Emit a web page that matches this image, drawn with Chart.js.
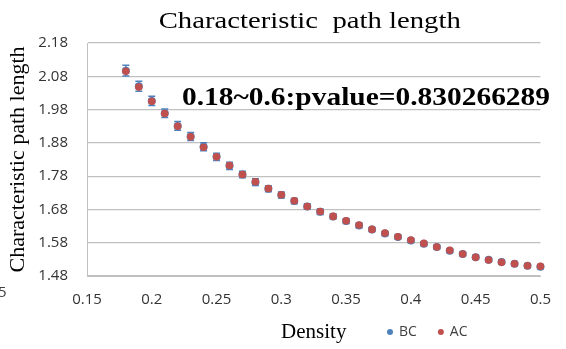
<!DOCTYPE html>
<html>
<head>
<meta charset="utf-8">
<script src="https://cdn.jsdelivr.net/npm/chart.js@4.4.1/dist/chart.umd.min.js"></script>
<style>
  html, body { margin: 0; padding: 0; background: #fff; }
  canvas { display: block; }
</style>
</head>
<body>
<canvas id="c" width="566" height="349"></canvas>
<script>
// ---- data ----
const density = [0.18,0.19,0.20,0.21,0.22,0.23,0.24,0.25,0.26,0.27,0.28,0.29,0.30,0.31,0.32,0.33,0.34,
                 0.35,0.36,0.37,0.38,0.39,0.40,0.41,0.42,0.43,0.44,0.45,0.46,0.47,0.48,0.49,0.50];
const bcValues = [2.097,2.050,2.006,1.969,1.931,1.899,1.868,1.838,1.811,1.785,1.762,1.742,1.723,1.705,1.689,1.673,1.659,
                  1.645,1.632,1.620,1.608,1.597,1.587,1.577,1.567,1.556,1.546,1.536,1.529,1.522,1.517,1.511,1.508];
const acValues = [2.095,2.048,2.005,1.968,1.930,1.898,1.867,1.838,1.812,1.785,1.763,1.743,1.724,1.706,1.689,1.674,1.659,
                  1.646,1.633,1.620,1.609,1.598,1.588,1.578,1.567,1.557,1.546,1.536,1.528,1.521,1.517,1.511,1.509];
const bcErrors = [0.016,0.015,0.014,0.013,0.013,0.012,0.012,0.011,0.011,0.010,0.010,0.009,0.009,0.008,0.008,0.008,0.007,
                  0.007,0.007,0.006,0.006,0.006,0.006,0.006,0.006,0.006,0.006,0.006,0.006,0.006,0.006,0.006,0.006];
const xTicks = [0.15,0.20,0.25,0.30,0.35,0.40,0.45,0.50];
const yTicks = [1.48,1.58,1.68,1.78,1.88,1.98,2.08,2.18];
const seriesNames = ['BC','AC'];
const titleText = 'Characteristic  path length';
const xTitle = 'Density';
const yTitle = 'Characteristic path length';
const noteText = '0.18~0.6:pvalue=0.830266289';

const BLUE = '#4F81BD', RED = '#C0504D';
const SERIF = '"Liberation Serif", "Times New Roman", serif';
const SANS = '"Open Sans", "Liberation Sans", sans-serif';

const toPts = (xs, ys) => xs.map((x, i) => ({x: x, y: ys[i]}));

function stretchedText(ctx, text, font, left, baseline, width) {
  ctx.save();
  ctx.font = font;
  ctx.textBaseline = 'alphabetic';
  ctx.textAlign = 'left';
  const w = ctx.measureText(text).width;
  ctx.translate(left, baseline);
  ctx.scale(width / w, 1);
  ctx.fillText(text, 0, 0);
  ctx.restore();
}

const errorBars = {
  id: 'errorBars',
  beforeDatasetsDraw(chart) {
    const {ctx, scales: {x, y}} = chart;
    ctx.save();
    ctx.strokeStyle = BLUE;
    ctx.lineWidth = 1.5;
    density.forEach((d, i) => {
      const px = x.getPixelForValue(d);
      const top = y.getPixelForValue(bcValues[i] + bcErrors[i]);
      const bot = y.getPixelForValue(bcValues[i] - bcErrors[i]);
      ctx.beginPath();
      ctx.moveTo(px, top); ctx.lineTo(px, bot);
      ctx.moveTo(px - 3.5, top); ctx.lineTo(px + 3.5, top);
      ctx.moveTo(px - 3.5, bot); ctx.lineTo(px + 3.5, bot);
      ctx.stroke();
    });
    ctx.restore();
  }
};

const extras = {
  id: 'extras',
  afterDraw(chart) {
    const ctx = chart.ctx;
    const area = chart.chartArea;
    ctx.fillStyle = '#000';
    // chart title, centred over the plot area
    ctx.save();
    ctx.font = '24px ' + SERIF;
    const tw = 302;
    stretchedText(ctx, titleText, '24px ' + SERIF, (area.left + area.right) / 2 - tw / 2 - 4, 28, tw);
    ctx.restore();
    // annotation text (bold serif)
    ctx.fillStyle = '#000';
    stretchedText(ctx, noteText, 'bold 25px ' + SERIF, 182, 105, 368);

    // legend
    ctx.save();
    ctx.font = '14px ' + SANS;
    ctx.textBaseline = 'middle';
    ctx.textAlign = 'left';
    let lx = 390;
    const ly = 332;
    chart.data.datasets.forEach((ds) => {
      ctx.fillStyle = ds.backgroundColor;
      ctx.beginPath();
      ctx.arc(lx, ly, 3, 0, Math.PI * 2);
      ctx.fill();
      ctx.fillStyle = '#404040';
      ctx.fillText(ds.label, lx + 9, ly);
      lx += 9 + ctx.measureText(ds.label).width + 24;
    });
    // cut-off fragment at left edge
    ctx.fillStyle = '#404040';
    ctx.font = '15px ' + SANS;
    ctx.fillText('5', -2, 293);
    ctx.restore();
  }
};

new Chart(document.getElementById('c'), {
  type: 'scatter',
  data: {
    datasets: [
      { label: seriesNames[0], data: toPts(density, bcValues), backgroundColor: BLUE, borderColor: BLUE,
        pointRadius: 4, pointBorderWidth: 0, order: 2, clip: false },
      { label: seriesNames[1], data: toPts(density, acValues), backgroundColor: RED, borderColor: RED,
        pointRadius: 3.8, pointBorderWidth: 0, order: 1, clip: false }
    ]
  },
  options: {
    responsive: false,
    animation: false,
    devicePixelRatio: 1,
    layout: { padding: { left: 0, right: 15, top: 43, bottom: 0 } },
    plugins: {
      legend: { display: false },
      tooltip: { enabled: false },
      title: { display: false }
    },
    scales: {
      x: {
        type: 'linear', min: xTicks[0], max: xTicks[xTicks.length - 1],
        afterBuildTicks: (s) => { s.ticks = xTicks.map(v => ({value: v})); },
        afterFit: (s) => { s.height = 73; },
        grid: { display: false, drawTicks: false },
        border: { display: true, color: '#c0c0c0', width: 1 },
        ticks: { color: '#333', font: { family: SANS, size: 15 }, padding: 15, maxRotation: 0,
                 callback: (v) => String(Math.round(v * 100) / 100) },
        title: { display: true, text: xTitle, color: '#000', font: { family: SERIF, size: 21 },
                 padding: { top: 0, bottom: 4 } }
      },
      y: {
        type: 'linear', min: yTicks[0], max: yTicks[yTicks.length - 1],
        afterBuildTicks: (s) => { s.ticks = yTicks.map(v => ({value: v})); },
        afterFit: (s) => { s.width = 87; },
        grid: { color: '#c0c0c0', lineWidth: 1.2, drawTicks: false },
        border: { display: true, color: '#c0c0c0', width: 1 },
        ticks: { color: '#333', font: { family: SANS, size: 15 }, padding: 19,
                 callback: (v) => (Math.round(v * 100) / 100).toFixed(2) },
        title: { display: true, text: yTitle, color: '#000', font: { family: SERIF, size: 22 },
                 padding: { top: 5, bottom: 0 } }
      }
    }
  },
  plugins: [errorBars, extras]
});
</script>
</body>
</html>
